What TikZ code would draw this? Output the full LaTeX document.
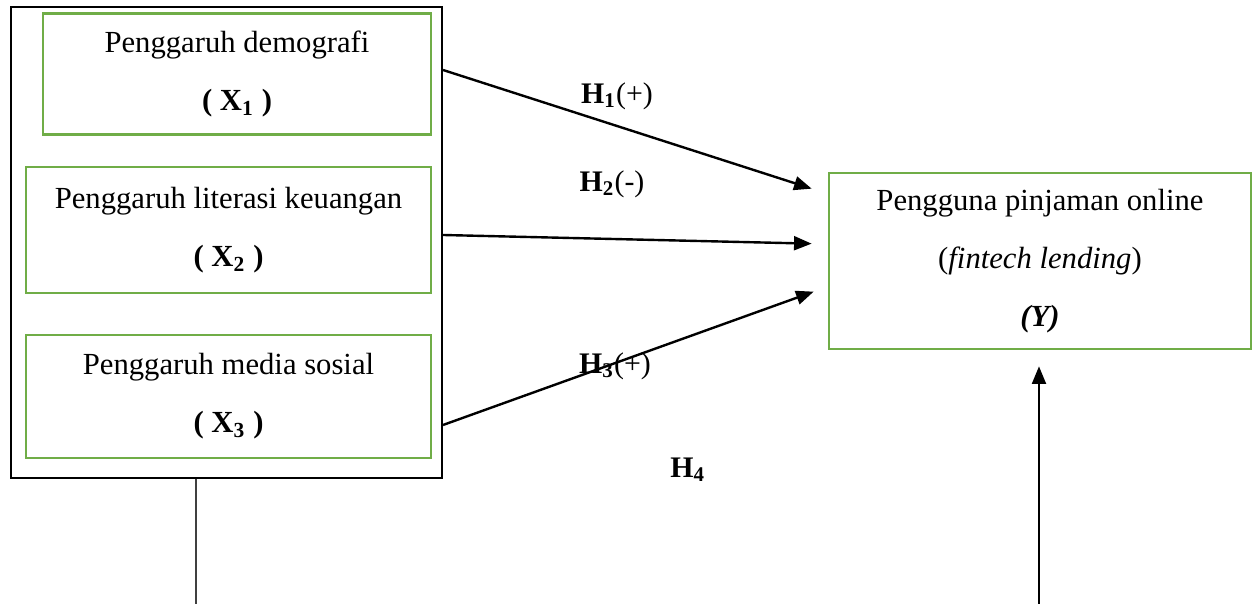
\documentclass[tikz,border=0pt]{standalone}
\usepackage{fontspec}
\setmainfont{Liberation Serif}
\usetikzlibrary{arrows.meta, positioning}
\definecolor{boxgreen}{HTML}{70AD47}
\tikzset{
	varbox/.style={draw=boxgreen, line width=1pt, align=center, inner sep=0pt,
		font=\fontsize{11.5}{21.8}\selectfont},
	link/.style={-{Triangle[length=6.6pt,width=5.2pt]}, line width=0.9pt},
	hyp/.style={font=\fontsize{11.2}{14}\selectfont},
}

\begin{document}
\begin{tikzpicture}[x=0.375pt, y=-0.375pt]
	\useasboundingbox (0,0) rectangle (1252,604);
	% independent variables
	\node[draw, line width=0.8pt, minimum width=161.6pt, minimum height=176.6pt] (outer) at (226.5,242.5) {};
	\node[varbox, minimum width=145.5pt, minimum height=45.4pt] (x1) at (237,74)
		{Penggaruh demografi\\ \textbf{( X\textsubscript{1} )}};
	\node[varbox, minimum width=151.9pt, minimum height=47.25pt] (x2) at (228.5,230)
		{Penggaruh literasi keuangan\\ \textbf{( X\textsubscript{2} )}};
	\node[varbox, minimum width=151.9pt, minimum height=46.1pt] (x3) at (228.5,396.5)
		{Penggaruh media sosial\\ \textbf{( X\textsubscript{3} )}};
	% dependent variable
	\node[varbox, minimum width=158.25pt, minimum height=66pt] (y) at (1040,261)
		{Pengguna pinjaman online\\ (\textit{fintech lending})\\ \textbf{\textit{(Y)}}};
	\coordinate (in1) at ([shift={(-16,17)}]y.north west);
	\coordinate (in2) at ([shift={(-16,72)}]y.north west);
	\coordinate (in3) at ([shift={(-14,120)}]y.north west);
	\coordinate (foot) at (196,604);
	\coordinate (base) at (1039,604);
	\draw[link]
	(outer.east |- 0,70) -- (in1);
	\draw[link] (outer.east |- 0,235) -- (in2);
	\draw[link] (outer.east |- 0,425) -- (in3);
	\draw[line width=0.5pt, black!75] (foot |- outer.south) -- (foot);
	\draw[link] (base) -- ([yshift=-6pt]base |- y.south);
	% hypotheses
	\node[hyp] (h1) at (617,96) {\textbf{H\textsubscript{1}}(+)};
	\node[hyp] (h2) at (612,184) {\textbf{H\textsubscript{2}}(-)};
	\node[hyp] (h3) at (615,366) {\textbf{H\textsubscript{3}}(+)};
	\node[hyp] (h4) at (688,470) {\textbf{H\textsubscript{4}}};
\end{tikzpicture}
\end{document}
